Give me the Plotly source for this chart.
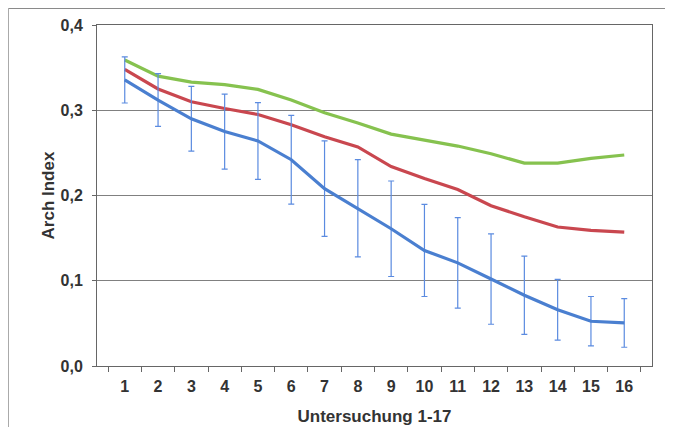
import plotly.graph_objects as go

categories = [str(i) for i in range(1, 17)]
green = [0.359, 0.340, 0.333, 0.330, 0.3245, 0.312, 0.297, 0.285, 0.272, 0.265, 0.258, 0.249, 0.238, 0.238, 0.2435, 0.2475]
red = [0.348, 0.325, 0.310, 0.302, 0.295, 0.283, 0.269, 0.257, 0.234, 0.220, 0.207, 0.188, 0.175, 0.163, 0.159, 0.157]
blue = [0.3355, 0.312, 0.290, 0.275, 0.264, 0.242, 0.208, 0.185, 0.161, 0.1355, 0.121, 0.102, 0.083, 0.066, 0.0525, 0.0505]
blue_sd = [0.027, 0.031, 0.038, 0.044, 0.045, 0.052, 0.056, 0.057, 0.056, 0.054, 0.053, 0.053, 0.046, 0.0356, 0.029, 0.0285]
y_ticks = [0.0, 0.1, 0.2, 0.3, 0.4]

FONT = "Liberation Sans, Arial, sans-serif"

fig = go.Figure()
fig.add_trace(go.Scatter(x=categories, y=green, mode="lines",
                         line=dict(color="#86c24f", width=3.2), showlegend=False))
fig.add_trace(go.Scatter(x=categories, y=red, mode="lines",
                         line=dict(color="#c9474f", width=3.2), showlegend=False))
fig.add_trace(go.Scatter(x=categories, y=blue, mode="lines",
                         line=dict(color="#4a7fd0", width=3.2), showlegend=False,
                         error_y=dict(type="data", array=blue_sd, visible=True,
                                      color="#5b8be0", thickness=1.2, width=3)))

# page body has an 8px margin; figure placed so plot area lands at x 97..652, y 25..366
W, H = 663, 419
ML, MR, MT, MB = 89, 19, 17, 61
pw = W - ML - MR
ph = H - MT - MB

fig.update_layout(
    width=W, height=H,
    margin=dict(l=ML, r=MR, t=MT, b=MB),
    paper_bgcolor="white", plot_bgcolor="white",
    separators=", ",
    font=dict(family=FONT, size=16, color="#333333"),
    xaxis=dict(
        type="category",
        automargin=False,
        tickson="boundaries",
        ticks="outside", ticklen=5, tickcolor="#666666", tickwidth=1,
        ticklabelstandoff=6,
        showline=True, linecolor="#666666", linewidth=1, mirror=True,
        showgrid=False,
        tickfont=dict(family=FONT, size=16, color="#333333", weight="bold"),
        title=dict(text="<b>Untersuchung 1-17</b>", standoff=15,
                   font=dict(family=FONT, size=17, color="#333333")),
    ),
    yaxis=dict(
        range=[0, 0.4],
        automargin=False,
        tickvals=y_ticks, tickformat=".1f",
        ticks="outside", ticklen=4, tickcolor="#666666",
        ticklabelstandoff=6,
        showline=True, linecolor="#666666", linewidth=1, mirror=True,
        showgrid=True, gridcolor="#808080", gridwidth=1,
        zeroline=False,
        tickfont=dict(family=FONT, size=16, color="#333333", weight="bold"),
        title=dict(text="<b>Arch Index</b>", standoff=1,
                   font=dict(family=FONT, size=17, color="#333333")),
    ),
    shapes=[
        dict(type="line", xref="paper", yref="paper",
             x0=-ML / pw, x1=(665 - 97) / pw, y0=1 + (MT - 0.5) / ph, y1=1 + (MT - 0.5) / ph,
             line=dict(color="#8a8a8a", width=1)),
        dict(type="line", xref="paper", yref="paper",
             x0=(-ML + 0.5) / pw, x1=(-ML + 0.5) / pw, y0=1 + MT / ph, y1=-MB / ph,
             line=dict(color="#aaaaaa", width=1)),
    ],
)

fig.write_html("out.html")
